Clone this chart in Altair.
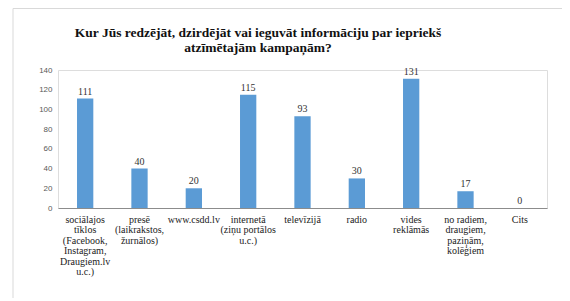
import altair as alt
import pandas as pd

categories = [
    "sociālajos|tīklos|(Facebook,|Instagram,|Draugiem.lv|u.c.)",
    "presē|(laikrakstos,|žurnālos)",
    "www.csdd.lv",
    "internetā|(ziņu portālos|u.c.)",
    "televīzijā",
    "radio",
    "vides|reklāmās",
    "no radiem,|draugiem,|paziņām,|kolēģiem",
    "Cits",
]
values = [111, 40, 20, 115, 93, 30, 131, 17, 0]
y_ticks = [0, 20, 40, 60, 80, 100, 120, 140]
title_lines = [
    "Kur Jūs redzējāt, dzirdējāt  vai ieguvāt informāciju  par iepriekš",
    "atzīmētajām kampaņām?",
]

df = pd.DataFrame({"cat": categories, "val": values})

SERIF = "Liberation Serif, Times New Roman, DejaVu Serif, serif"

x = alt.X(
    "cat:N",
    sort=categories,
    title=None,
    scale=alt.Scale(paddingInner=0.7, paddingOuter=0.35),
    axis=alt.Axis(
        labelExpr="split(datum.label, '|')",
        labelAngle=0,
        labelFont=SERIF,
        labelFontSize=10,
        labelColor="#222222",
        labelLineHeight=10.5,
        labelPadding=6,
        labelLimit=200,
        ticks=False,
        domainColor="#8c8c8c",
        domainWidth=1,
    ),
)
y = alt.Y(
    "val:Q",
    title=None,
    scale=alt.Scale(domain=[0, 140], nice=False),
    axis=alt.Axis(
        values=y_ticks,
        grid=False,
        ticks=False,
        domain=False,
        labelFont="Liberation Sans",
        labelFontSize=8,
        labelColor="#595959",
        labelPadding=6,
    ),
)

base = alt.Chart(df)
bars = base.mark_bar(color="#5B9BD5").encode(x=x, y=y)
labels = base.mark_text(
    dy=-4, font=SERIF, fontSize=10, color="#333333", baseline="alphabetic"
).encode(x=x, y=y, text="val:Q")

one = alt.Chart(pd.DataFrame({"k": [0]}))
title = one.mark_text(
    text=title_lines,
    font=SERIF,
    fontSize=13.5,
    fontWeight="bold",
    color="#111111",
    align="center",
    baseline="alphabetic",
    lineHeight=15,
).encode(x=alt.value(200), y=alt.value(-33))

frame_left = one.mark_rule(color="#d9d9d9", strokeWidth=1).encode(
    x=alt.value(-45), y=alt.value(-61.5), y2=alt.value(240)
)
frame_top = one.mark_rule(color="#d9d9d9", strokeWidth=1).encode(
    x=alt.value(-45), x2=alt.value(520), y=alt.value(-61.5)
)

chart = (
    alt.layer(frame_left, frame_top, title, bars, labels)
    .properties(
        width=489,
        height=138,
        autosize=alt.AutoSizeParams(type="none"),
        padding={"left": 50, "top": 62, "right": 15, "bottom": 90},
    )
    .configure_view(stroke="#d9d9d9", strokeWidth=1)
    .configure(background="white")
)

chart.save("out.html", embed_options={"renderer": "svg", "actions": False})
